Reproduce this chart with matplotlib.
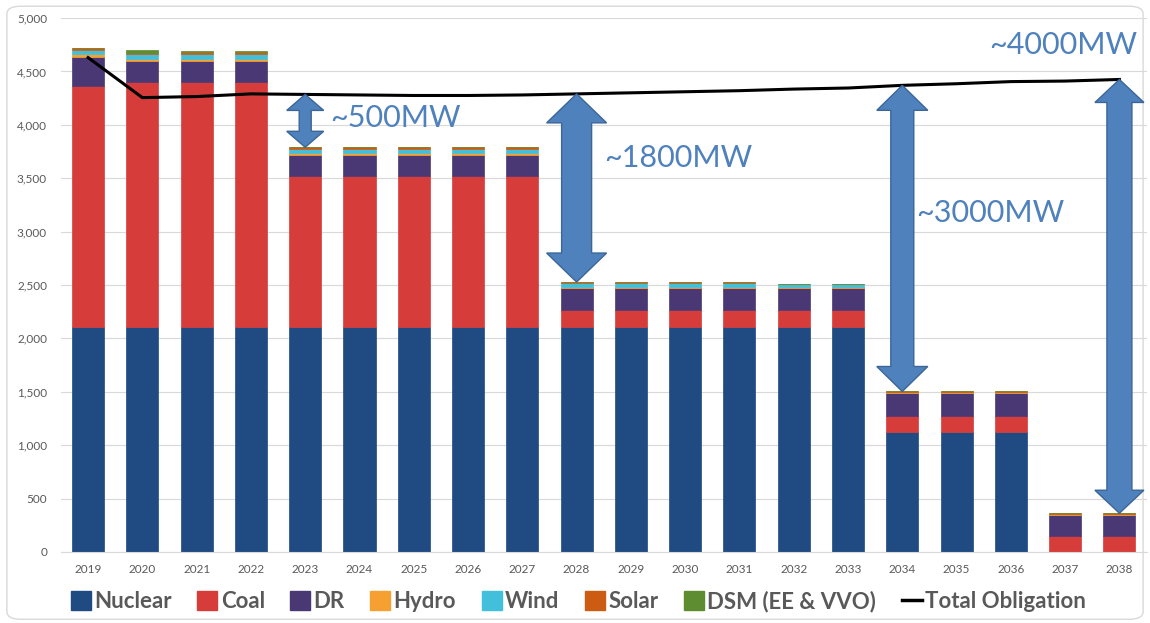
import numpy as np
import matplotlib.pyplot as plt
from matplotlib.patches import Polygon, Patch, FancyBboxPatch
from matplotlib.lines import Line2D

plt.rcParams['font.family'] = ['Lato', 'DejaVu Sans']

YEARS = [str(y) for y in range(2019, 2039)]

NUCLEAR = [2110] * 15 + [1120] * 3 + [0, 0]
COAL = [2250, 2290, 2290, 2290] + [1410] * 5 + [160] * 6 + [155] * 3 + [150, 150]
DR = [280, 195, 200, 200] + [195] * 5 + [205] * 6 + [215] * 3 + [200, 200]
HYDRO = [20] * 9 + [10] * 6 + [8] * 5
WIND = [45, 45, 45, 45] + [40] * 5 + [35] * 4 + [20, 20] + [0] * 5
SOLAR = [15] * 9 + [8] * 6 + [5] * 5
DSM = [0, 25, 8, 8] + [0] * 16

TOTAL_OBLIGATION = [4630, 4255, 4265, 4290, 4285, 4280, 4275, 4275, 4280, 4290,
                    4300, 4310, 4320, 4335, 4345, 4370, 4385, 4405, 4410, 4425]

# gap arrows: (year index, label, label x, label y)
GAPS = [(4, "~500MW", 4.45, 4060), (9, "~1800MW", 9.5, 3690),
        (15, "~3000MW", 15.25, 3170), (19, "~4000MW", 16.6, 4750)]
# arrow shapes in pixels: shaft width, head width, head length
ARROW_PX = [(12, 37, 16), (30, 60, 29), (23, 51, 25), (25, 49, 23)]

series = [("Nuclear", NUCLEAR, "#1F4A82"),
          ("Coal", COAL, "#D63C3A"),
          ("DR", DR, "#4A3874"),
          ("Hydro", HYDRO, "#F5A030"),
          ("Wind", WIND, "#42C0DB"),
          ("Solar", SOLAR, "#CC5C12"),
          ("DSM (EE & VVO)", DSM, "#5E8C31")]

fig = plt.figure(figsize=(11.5, 6.23), dpi=100)
fig.patches.append(FancyBboxPatch((0.006, 0.006), 0.988, 0.984,
                                  boxstyle="round,pad=0,rounding_size=0.012",
                                  transform=fig.transFigure, facecolor="none",
                                  edgecolor="#D9D9D9", linewidth=1.0, zorder=-1))
ax = fig.add_axes([0.053, 0.114, 0.944, 0.857])
ax.set_facecolor("none")

x = np.arange(len(YEARS))
bottom = np.zeros(len(YEARS))
for name, vals, col in series:
    ax.bar(x, vals, 0.59, bottom=bottom, color=col, edgecolor=col, linewidth=0.5, zorder=2)
    bottom += np.array(vals)
bar_top = bottom.copy()

ax.plot(x, TOTAL_OBLIGATION, color="black", linewidth=2.2, zorder=4)

# double-headed block arrows between obligation line and bar tops
px_x = 1086 / 20.0      # pixels per x unit
px_y = 534 / 5000.0     # pixels per MW
for (i, label, tx, ty), (sw, hw, hl) in zip(GAPS, ARROW_PX):
    y_top = TOTAL_OBLIGATION[i]
    y_bot = bar_top[i]
    s = sw / px_x / 2
    h = hw / px_x / 2
    L = hl / px_y
    pts = [(i, y_top), (i + h, y_top - L), (i + s, y_top - L), (i + s, y_bot + L),
           (i + h, y_bot + L), (i, y_bot), (i - h, y_bot + L), (i - s, y_bot + L),
           (i - s, y_top - L), (i - h, y_top - L)]
    ax.add_patch(Polygon(pts, closed=True, facecolor="#4F81BD", edgecolor="#3B6698",
                         linewidth=1.0, zorder=5, clip_on=False))
    ax.text(tx, ty, label, fontsize=22, color="#4F81BD", va="center", ha="left", zorder=6)

ax.set_xlim(-0.5, 19.5)
ax.set_ylim(0, 5000)
ax.set_yticks(np.arange(0, 5001, 500))
ax.set_yticklabels([f"{v:,}" for v in range(0, 5001, 500)])
ax.set_xticks(x)
ax.set_xticklabels(YEARS)
ax.tick_params(axis="both", length=0, labelsize=8.5, labelcolor="#595959")
ax.tick_params(axis="x", pad=9)
ax.tick_params(axis="y", pad=10)
ax.grid(axis="y", color="#D9D9D9", linewidth=0.8, zorder=0)
for sp in ["top", "right", "left"]:
    ax.spines[sp].set_visible(False)
ax.spines["bottom"].set_color("#D9D9D9")

handles = [Patch(facecolor=c, edgecolor=c) for _, _, c in series]
handles.append(Line2D([0], [0], color="black", linewidth=2.5))
labels = [n for n, _, _ in series] + ["Total Obligation"]
fig.legend(handles, labels, loc="center", bbox_to_anchor=(0.503, 0.035), ncol=8,
           frameon=False, prop={"size": 16, "weight": "bold"}, handlelength=0.9,
           handleheight=0.9, handletextpad=0.15, columnspacing=1.15, labelcolor="#595959")

fig.savefig("out.png", dpi=100)
